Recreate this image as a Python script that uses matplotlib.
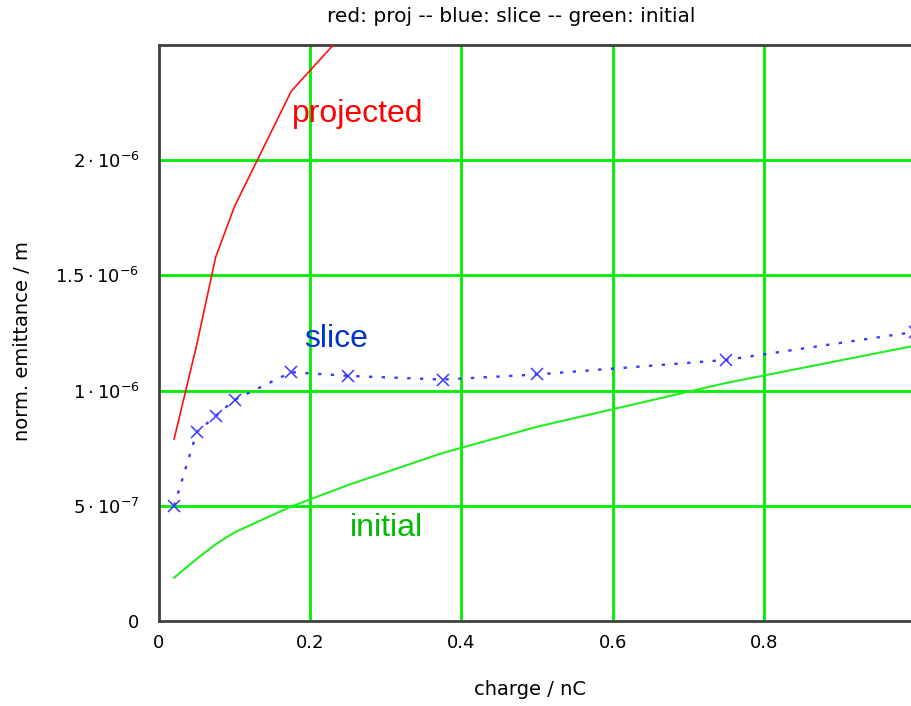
import numpy as np
import matplotlib
matplotlib.use("Agg")
import matplotlib.pyplot as plt

plt.rcParams['font.family'] = ['DejaVu Sans']
plt.rcParams['mathtext.fontset'] = 'dejavusans'

# charge in nC, emittance in 1e-6 m
charge = [0.02, 0.05, 0.075, 0.1, 0.175, 0.25, 0.375, 0.5, 0.75, 1.0]
slice_emit = [0.50, 0.82, 0.89, 0.96, 1.08, 1.064, 1.048, 1.07, 1.133, 1.255]
initial_emit = [0.188, 0.27, 0.333, 0.385, 0.497, 0.59, 0.729, 0.843, 1.033, 1.195]
proj_charge = [0.02, 0.05, 0.075, 0.1, 0.175, 0.25]
proj_emit = [0.79, 1.20, 1.58, 1.80, 2.30, 2.57]

xticks = [0, 0.2, 0.4, 0.6, 0.8]
xticklabels = ['0', '0.2', '0.4', '0.6', '0.8']
yticks = [0, 5e-7, 1e-6, 1.5e-6, 2e-6]
yticklabels = ['0', r'$5\cdot10^{-7}$', r'$1\cdot10^{-6}$',
               r'$1.5\cdot10^{-6}$', r'$2\cdot10^{-6}$']

fig = plt.figure(figsize=(9.12, 7.06), dpi=100)
ax = fig.add_axes([159/912, 1 - 621/706, 756/912, 576/706])

grid_col = '#00ee00'
for x in xticks[1:]:
    ax.axvline(x, color=grid_col, lw=2, zorder=1)
for y in yticks[1:]:
    ax.axhline(y, color=grid_col, lw=2, zorder=1)

ax.plot(proj_charge, np.array(proj_emit) * 1e-6, color='#ff1010', lw=1.2, zorder=3)
ax.plot(charge, np.array(initial_emit) * 1e-6, color='#22ee22', lw=1.5, zorder=3)
ax.plot(charge, np.array(slice_emit) * 1e-6, color='#3838ff', lw=1.7,
        linestyle=(0, (1.4, 4)), marker='x', markersize=9, markeredgewidth=1.1, zorder=4)

lbl_font = ['Liberation Sans', 'DejaVu Sans']
ax.text(0.176, 2.165e-6, 'projected', color='#ff0000', fontsize=23, family=lbl_font)
ax.text(0.192, 1.188e-6, 'slice', color='#0033cc', fontsize=23, family=lbl_font)
ax.text(0.253, 0.37e-6, 'initial', color='#00bb00', fontsize=23, family=lbl_font)

ax.set_xlim(0, 1.0)
ax.set_ylim(0, 2.5e-6)
ax.set_xticks(xticks)
ax.set_xticklabels(xticklabels)
ax.set_yticks(yticks)
ax.set_yticklabels(yticklabels)
ax.tick_params(length=0, labelsize=13)
ax.tick_params(axis='x', pad=9)
ax.tick_params(axis='y', pad=14)

for side in ['left', 'bottom', 'top']:
    ax.spines[side].set_color('#404040')
    ax.spines[side].set_linewidth(2)
ax.spines['right'].set_visible(False)

ax.set_xlabel('charge / nC', fontsize=14)
ax.xaxis.set_label_coords((530 - 159) / 756, (621 - 680) / 576)
ax.set_ylabel('norm. emittance / m', fontsize=14)
ax.yaxis.set_label_coords((32 - 159) / 756, (621 - 341) / 576)
fig.text(511/912, 1 - 17/706, 'red: proj -- blue: slice -- green: initial',
         ha='center', va='center', fontsize=14.5)

fig.savefig('out.png', dpi=100)
